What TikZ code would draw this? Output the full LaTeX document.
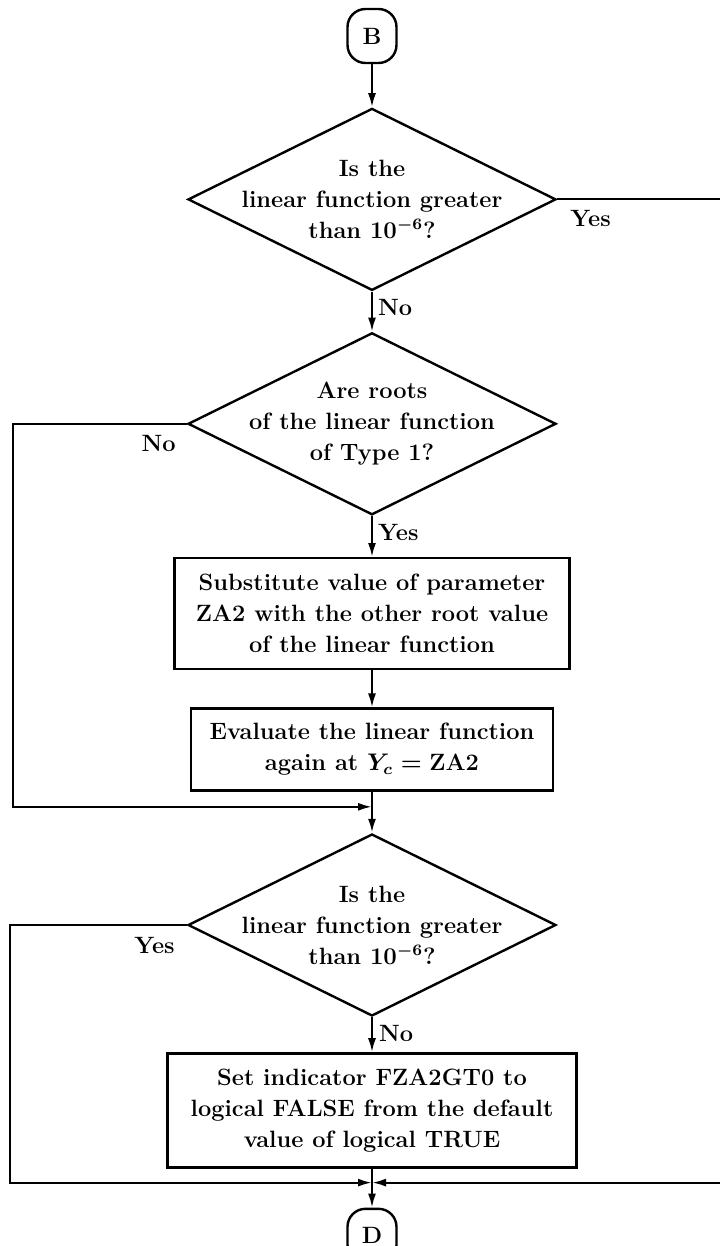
\documentclass[tikz,border=0pt]{standalone}
\usetikzlibrary{arrows.meta,positioning,shapes.geometric}

\begin{document}
\begin{tikzpicture}[
  node distance=20pt,
  every node/.style={align=center, font=\fontsize{11.8}{15.5}\selectfont\bfseries\boldmath},
  terminal/.style={draw, line width=1.2pt, rounded corners=9pt, minimum width=24.5pt,
                   minimum height=27pt, inner sep=0pt},
  decision/.style={draw, line width=1.2pt, diamond, aspect=2, minimum width=184pt,
                   minimum height=91pt, inner xsep=-10pt, inner ysep=-5pt},
  process/.style={draw, line width=1.2pt, minimum height=41pt},
  lbl/.style={inner sep=1.5pt},
  arr/.style={-{Latex[length=7pt,width=4pt]}, line width=1.1pt}
]
\useasboundingbox (-186pt,18pt) rectangle (173.5pt,-605pt);

\node (b) [terminal] {B};
\node (test1) [decision, below=21.5pt of b] {Is the\\linear function greater\\than $10^{-6}$?};
\node (roots) [decision, below=20pt of test1] {Are roots\\of the linear function\\of Type 1?};
\node (subst) [process, minimum width=197.5pt, minimum height=55.5pt, below=20.5pt of roots]
  {Substitute value of parameter\\ZA2 with the other root value\\of the linear function};
\node (eval) [process, minimum width=181pt, below=18.5pt of subst]
  {Evaluate the linear function\\again at $Y_c = \mbox{ZA2}$};
\coordinate [below=7.5pt of eval] (join1);
\node (test2) [decision, below=13pt of join1] {Is the\\linear function greater\\than $10^{-6}$?};
\node (flag) [process, minimum width=204.5pt, minimum height=57pt, below=17.5pt of test2]
  {Set indicator FZA2GT0 to\\logical FALSE from the default\\value of logical TRUE};
\coordinate [below=7pt of flag] (join2);
\node (d) [terminal, below=12.5pt of join2] {D};

\draw[arr] (b) -- (test1);
\draw[arr] (test1) -- node[lbl, pos=0, anchor=north west, xshift=1pt, yshift=-2pt] {No} (roots);
\draw[arr] (test1.east) -- node[lbl, pos=0, anchor=north west, xshift=4.5pt, yshift=-3.5pt] {Yes}
  ++(85pt,0) |- (join2);
\draw[arr] (roots) -- node[lbl, pos=0, anchor=north west, xshift=1pt, yshift=-2pt] {Yes} (subst);
\draw[arr] (roots.west) -- node[lbl, pos=0, anchor=north east, xshift=-3.5pt, yshift=-3.5pt] {No}
  ++(-87pt,0) |- (join1);
\draw[arr] (subst) -- (eval);
\draw[arr] (eval) -- (test2);
\draw[arr] (test2) -- node[lbl, pos=0, anchor=north west, xshift=1.5pt, yshift=-2pt] {No} (flag);
\draw[arr] (test2.west) -- node[lbl, pos=0, anchor=north east, xshift=-4pt, yshift=-4pt] {Yes}
  ++(-88.5pt,0) |- (join2);
\draw[arr] (flag) -- (d);
\end{tikzpicture}
\end{document}
